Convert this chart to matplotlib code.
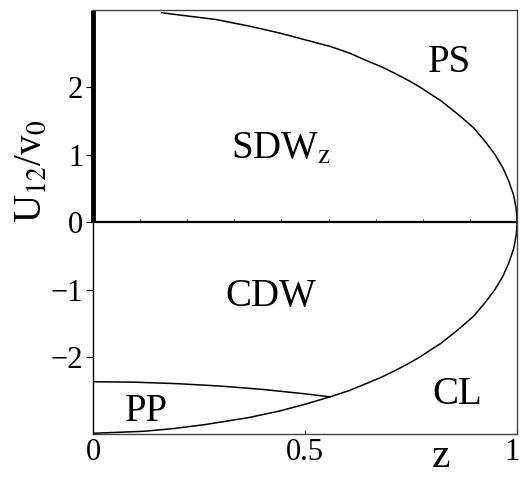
import numpy as np
import matplotlib
matplotlib.use("Agg")
import matplotlib.pyplot as plt
import matplotlib.transforms as mtransforms

plt.rcParams["font.family"] = ["Liberation Serif", "DejaVu Serif"]
plt.rcParams["mathtext.fontset"] = "stix"

# outer phase boundary (z, U12/v0)
boundary_u = [3.10, 3.00, 2.90, 2.80, 2.70, 2.60, 2.50, 2.40, 2.30, 2.20,
              2.10, 2.00, 1.90, 1.80, 1.60, 1.40, 1.20, 1.00, 0.80, 0.60,
              0.40, 0.30, 0.20, 0.10, 0.0, -0.10, -0.20, -0.30, -0.40, -0.60,
              -0.80, -1.00, -1.20, -1.40, -1.60, -1.80, -1.90, -2.00, -2.10, -2.20,
              -2.30, -2.40, -2.50, -2.59, -2.70, -2.80, -2.90, -3.00, -3.06, -3.10,
              -3.13]
boundary_z = [0.162, 0.29, 0.37, 0.44, 0.50, 0.56, 0.606, 0.642, 0.68, 0.713,
              0.743, 0.771, 0.795, 0.82, 0.86, 0.897, 0.924, 0.948, 0.967, 0.981,
              0.992, 0.995, 0.998, 0.9995, 1.0, 0.9995, 0.998, 0.995, 0.992, 0.981,
              0.967, 0.948, 0.924, 0.897, 0.86, 0.82, 0.795, 0.771, 0.743, 0.713,
              0.68, 0.642, 0.603, 0.559, 0.50, 0.44, 0.365, 0.265, 0.19, 0.12,
              0.0]

# PP / CDW boundary
pp_z = [0.0, 0.1, 0.2, 0.3, 0.4, 0.5, 0.559]
pp_u = [-2.366, -2.373, -2.395, -2.43, -2.48, -2.545, -2.59]

phase_names = ["PS", "SDW$_{\\mathrm{z}}$", "CDW", "CL", "PP"]
phase_z = [0.84, 0.443, 0.42, 0.86, 0.127]
phase_u = [2.36, 1.08, -1.11, -2.56, -2.80]

u_max = 3.14

fig = plt.figure(figsize=(5.21, 4.79), dpi=100)
ax = fig.add_axes([0.1785, 0.094, 0.8138, 0.885])

ax.plot(boundary_z, boundary_u, color="black", lw=1.1)
ax.plot(pp_z, pp_u, color="black", lw=1.1)

# thick left edge above U=0
ax.plot([0, 0], [0, u_max], color="black", lw=3.5, solid_capstyle="butt", clip_on=False)

ax.set_xlim(0, 1)
ax.set_ylim(-u_max, u_max)

for side in ["top", "right", "bottom"]:
    ax.spines[side].set_color("#444444")
    ax.spines[side].set_linewidth(1.0)
ax.spines["left"].set_linewidth(1.0)

ax.set_xticks([0, 0.5, 1])
ax.set_xticklabels(["0", "0.5", "1"])
ax.tick_params(axis="x", direction="in", length=3, labelsize=22, pad=3, color="#444444")
ax.set_yticks([-2, -1, 0, 1, 2])
ax.set_yticklabels(["\u22122", "\u22121", "0", "1", "2"])
ax.tick_params(axis="y", direction="out", length=5, labelsize=22, pad=2)

# nudge the "1" label so it stays inside the figure
last = ax.get_xticklabels()[-1]
last.set_transform(last.get_transform() + mtransforms.ScaledTranslation(-5 / 100, 0, fig.dpi_scale_trans))

# axis line through U=0 with small ticks
sec = ax.secondary_xaxis(0.5)
sec.set_xticks(np.arange(10) / 9)
sec.tick_params(direction="out", length=2, labelbottom=False, labeltop=False, width=0.6)
sec.spines["top"].set_linewidth(1.6)
sec.spines["bottom"].set_linewidth(1.6)

fig.text(13 / 521, 1 - 171 / 479, "U$_{12}$/v$_0$", fontsize=28, rotation=90,
         ha="left", va="center")
fig.text(441 / 521, 3 / 479, "z", fontsize=30, ha="center", va="bottom")

for name, z, u in zip(phase_names, phase_z, phase_u):
    ax.text(z, u, name, fontsize=28, ha="center", va="center")

fig.savefig("out.png", dpi=100)
